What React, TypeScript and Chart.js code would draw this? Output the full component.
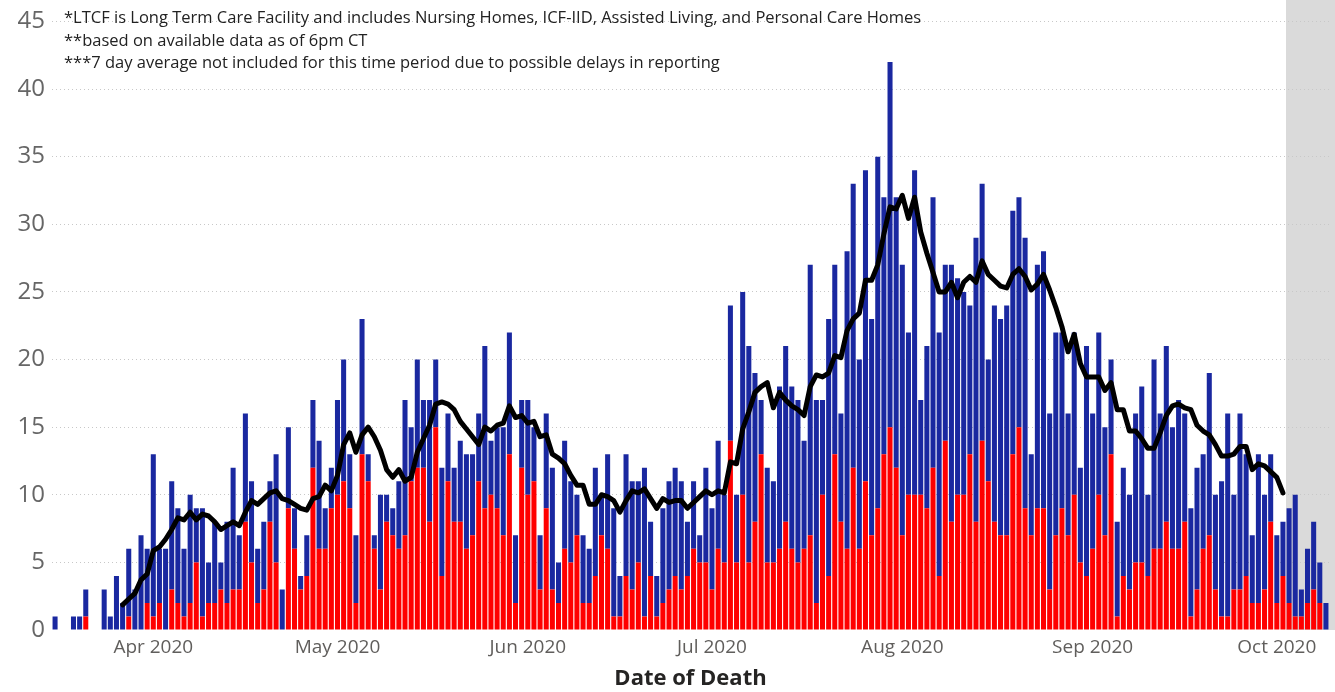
import { useEffect, useRef } from 'react';
import { Chart, registerables } from 'chart.js';

Chart.register(...registerables);

// First day shown on the axis (Mar 16, 2020) and number of days
const startYear = 2020;
const startMonthIndex = 2; // March
const startDay = 16;

// LTCF deaths per day (red, bottom of stack)
const ltcfDeaths = [
  0, 0, 0, 0, 0, 1, 0, 0, 0, 0,
  0, 0, 1, 0, 0, 2, 1, 2, 0, 3,
  2, 1, 2, 5, 1, 2, 2, 3, 2, 3,
  3, 8, 5, 2, 3, 8, 5, 0, 9, 6,
  3, 4, 12, 6, 6, 9, 10, 11, 9, 2,
  13, 11, 6, 3, 8, 7, 6, 7, 11, 12,
  12, 8, 15, 4, 11, 8, 8, 6, 7, 11,
  9, 10, 9, 7, 13, 2, 12, 10, 11, 3,
  9, 3, 2, 6, 5, 7, 2, 2, 4, 7,
  6, 1, 1, 4, 3, 5, 1, 4, 1, 2,
  3, 4, 3, 4, 6, 5, 5, 3, 6, 5,
  14, 5, 10, 5, 8, 13, 5, 5, 6, 8,
  6, 5, 6, 7, 2, 10, 4, 13, 8, 6,
  12, 6, 11, 7, 9, 13, 15, 12, 7, 10,
  10, 10, 9, 12, 4, 14, 8, 10, 10, 13,
  8, 14, 11, 8, 7, 7, 13, 15, 9, 7,
  9, 9, 3, 7, 9, 7, 10, 5, 4, 6,
  10, 7, 13, 1, 4, 3, 5, 5, 4, 6,
  6, 8, 6, 6, 8, 1, 3, 6, 7, 3,
  1, 1, 3, 3, 4, 2, 2, 3, 8, 2,
  4, 2, 1, 1, 2, 3, 2, 0,
];

// Non-LTCF deaths per day (blue, top of stack)
const otherDeaths = [
  1, 0, 0, 1, 1, 2, 0, 0, 3, 1,
  4, 2, 5, 3, 7, 4, 12, 4, 6, 8,
  7, 5, 8, 4, 8, 3, 6, 2, 6, 9,
  4, 8, 6, 4, 5, 3, 8, 3, 6, 3,
  1, 3, 5, 8, 3, 3, 7, 9, 4, 5,
  10, 2, 1, 7, 2, 2, 5, 10, 4, 8,
  5, 9, 5, 8, 5, 4, 6, 7, 6, 5,
  12, 4, 6, 8, 9, 5, 5, 7, 4, 4,
  7, 9, 3, 8, 6, 3, 5, 4, 8, 3,
  7, 8, 3, 9, 8, 6, 11, 4, 3, 7,
  8, 8, 8, 4, 5, 2, 7, 6, 8, 5,
  10, 5, 15, 16, 11, 4, 7, 6, 12, 13,
  12, 12, 8, 20, 15, 7, 19, 14, 8, 22,
  21, 14, 23, 16, 26, 19, 27, 20, 20, 12,
  24, 7, 12, 20, 18, 13, 19, 16, 15, 11,
  21, 19, 9, 16, 16, 17, 18, 17, 20, 6,
  18, 19, 13, 15, 13, 9, 12, 7, 17, 10,
  12, 8, 7, 7, 8, 7, 11, 13, 6, 14,
  10, 13, 9, 11, 8, 8, 9, 7, 12, 7,
  10, 15, 7, 13, 9, 5, 11, 7, 5, 5,
  4, 7, 9, 2, 4, 5, 3, 2,
];

// 7 day average line (black)
const sevenDayAvg = [
  null, null, null, null, null, null, null, null, null, null,
  null, 1.86, 2.29, 2.71, 3.71, 4.14, 5.86, 6.14, 6.71, 7.43,
  8.29, 8.14, 8.71, 8.14, 8.57, 8.43, 8.0, 7.43, 7.71, 8.0,
  7.71, 8.71, 9.57, 9.29, 9.71, 10.14, 10.29, 9.71, 9.57, 9.29,
  9.0, 8.86, 9.71, 9.86, 10.71, 10.29, 11.43, 13.71, 14.57, 13.14,
  14.43, 15.0, 14.29, 13.29, 11.86, 11.29, 11.86, 11.0, 11.29, 13.14,
  14.14, 15.14, 16.71, 16.86, 16.71, 16.29, 15.43, 14.86, 14.29, 13.71,
  15.0, 14.71, 15.14, 15.29, 16.57, 15.71, 15.86, 15.29, 15.43, 14.29,
  14.43, 13.0, 12.71, 12.29, 11.43, 10.71, 10.71, 9.29, 9.29, 10.0,
  9.86, 9.57, 8.71, 9.57, 10.29, 10.14, 10.43, 9.71, 9.0, 9.71,
  9.43, 9.57, 9.57, 9.0, 9.43, 9.86, 10.29, 10.0, 10.29, 10.14,
  12.43, 12.29, 14.86, 16.14, 17.57, 18.0, 18.29, 16.43, 17.57, 17.0,
  16.57, 16.29, 15.86, 18.0, 18.86, 18.71, 19.0, 20.29, 20.14, 22.14,
  23.0, 23.43, 25.86, 25.86, 27.0, 29.29, 31.29, 31.14, 32.14, 30.43,
  32.0, 29.43, 27.86, 26.43, 25.0, 25.0, 25.71, 24.57, 25.71, 26.14,
  25.71, 27.29, 26.29, 25.86, 25.43, 25.29, 26.29, 26.71, 26.14, 25.14,
  25.57, 26.29, 25.14, 23.86, 22.43, 20.57, 21.86, 19.71, 18.71, 18.71,
  18.71, 17.71, 18.29, 16.29, 16.29, 14.71, 14.71, 14.14, 13.43, 13.43,
  14.57, 15.86, 16.57, 16.71, 16.43, 16.29, 15.14, 14.71, 14.43, 13.71,
  12.86, 12.86, 13.0, 13.57, 13.57, 11.86, 12.29, 12.14, 11.71, 11.29,
  10.14, null, null, null, null, null, null, null,
];

// First day of the period without a 7 day average (gray band)
const shadedFromIndex = 201;

const monthTickLabels = ['Jan 2020', 'Feb 2020', 'Mar 2020', 'Apr 2020', 'May 2020', 'Jun 2020', 'Jul 2020', 'Aug 2020', 'Sep 2020', 'Oct 2020', 'Nov 2020', 'Dec 2020'];
const yMax = 45;
const yStep = 5;

const notes = [
  '*LTCF is Long Term Care Facility and includes Nursing Homes, ICF-IID, Assisted Living, and Personal Care Homes',
  '**based on available data as of 6pm CT',
  '***7 day average not included for this time period due to possible delays in reporting',
];

const xTitle = 'Date of Death';

function buildDates(count: number) {
  const out: { label: string; month: number; day: number }[] = [];
  for (let i = 0; i < count; i++) {
    const d = new Date(Date.UTC(startYear, startMonthIndex, startDay + i));
    const m = d.getUTCMonth();
    const day = d.getUTCDate();
    out.push({
      label: `${d.getUTCFullYear()}-${String(m + 1).padStart(2, '0')}-${String(day).padStart(2, '0')}`,
      month: m,
      day,
    });
  }
  return out;
}

const FONT = "'Segoe UI', 'Open Sans', 'Noto Sans', sans-serif";

export default function App() {
  const canvasRef = useRef<HTMLCanvasElement | null>(null);

  useEffect(() => {
    if (!canvasRef.current) return;
    const dates = buildDates(ltcfDeaths.length);

    const shadePlugin = {
      id: 'shadeBand',
      beforeDraw(chart: any) {
        const { ctx, chartArea, scales } = chart;
        const x = scales.x;
        const left = (x.getPixelForValue(shadedFromIndex - 1) + x.getPixelForValue(shadedFromIndex)) / 2;
        ctx.save();
        ctx.fillStyle = '#dadada';
        ctx.fillRect(left, 0, chart.width - left, chartArea.bottom);
        ctx.restore();
      },
    };

    const chart = new Chart(canvasRef.current, {
      type: 'bar',
      data: {
        labels: dates.map((d) => d.label),
        datasets: [
          {
            type: 'line',
            label: '7 day average',
            data: sevenDayAvg,
            borderColor: '#000000',
            borderWidth: 5,
            pointRadius: 0,
            tension: 0,
            borderJoinStyle: 'round',
            borderCapStyle: 'round',
            spanGaps: false,
            stack: 'avg',
            order: 0,
          } as any,
          {
            type: 'bar',
            label: 'LTCF',
            data: ltcfDeaths,
            backgroundColor: '#ff0000',
            barPercentage: 0.82,
            categoryPercentage: 1.0,
            stack: 'deaths',
            order: 1,
          },
          {
            type: 'bar',
            label: 'Non-LTCF',
            data: otherDeaths,
            backgroundColor: '#1a28a0',
            barPercentage: 0.82,
            categoryPercentage: 1.0,
            stack: 'deaths',
            order: 1,
          },
        ],
      },
      options: {
        animation: false,
        responsive: true,
        maintainAspectRatio: false,
        layout: { padding: { left: 0, top: 18, right: 6, bottom: 0 } },
        plugins: {
          legend: { display: false },
          tooltip: { enabled: false },
          title: { display: false },
        },
        scales: {
          x: {
            stacked: true,
            grid: { display: false, drawTicks: false },
            border: { display: false },
            ticks: {
              autoSkip: false,
              maxRotation: 0,
              minRotation: 0,
              padding: 6,
              color: '#605e5c',
              font: { family: FONT, size: 19 },
              callback: (_v: any, i: number) => (dates[i] && dates[i].day === 1 ? monthTickLabels[dates[i].month] : ''),
            },
            title: {
              display: true,
              text: xTitle,
              color: '#252423',
              font: { family: FONT, size: 22, weight: 'bold' },
              padding: { top: 0, bottom: 0 },
            },
            afterFit: (scale: any) => {
              scale.height = 62;
            },
          },
          y: {
            stacked: true,
            min: 0,
            max: yMax,
            grid: {
              color: (ctx: any) => (ctx.tick && ctx.tick.value === 0 ? 'rgba(0,0,0,0)' : '#c8c8c8'),
              lineWidth: 1,
              drawTicks: false,
            },
            border: { display: false, dash: [1, 3] },
            ticks: {
              stepSize: yStep,
              padding: 7,
              color: '#666666',
              font: { family: FONT, size: 24 },
            },
            afterFit: (scale: any) => {
              scale.width = 52;
            },
          },
        },
      },
      plugins: [shadePlugin],
    });

    return () => chart.destroy();
  }, []);

  return (
    <div style={{ position: 'absolute', left: 0, top: 0, width: 1335, height: 692, background: '#ffffff', overflow: 'hidden' }}>
      <canvas ref={canvasRef} />
      <div
        style={{
          position: 'absolute',
          left: 64,
          top: 6,
          fontFamily: FONT,
          fontSize: 16.5,
          lineHeight: '22.5px',
          color: '#222222',
          whiteSpace: 'nowrap',
          pointerEvents: 'none',
        }}
      >
        {notes.map((n) => (
          <div key={n}>{n}</div>
        ))}
      </div>
    </div>
  );
}
